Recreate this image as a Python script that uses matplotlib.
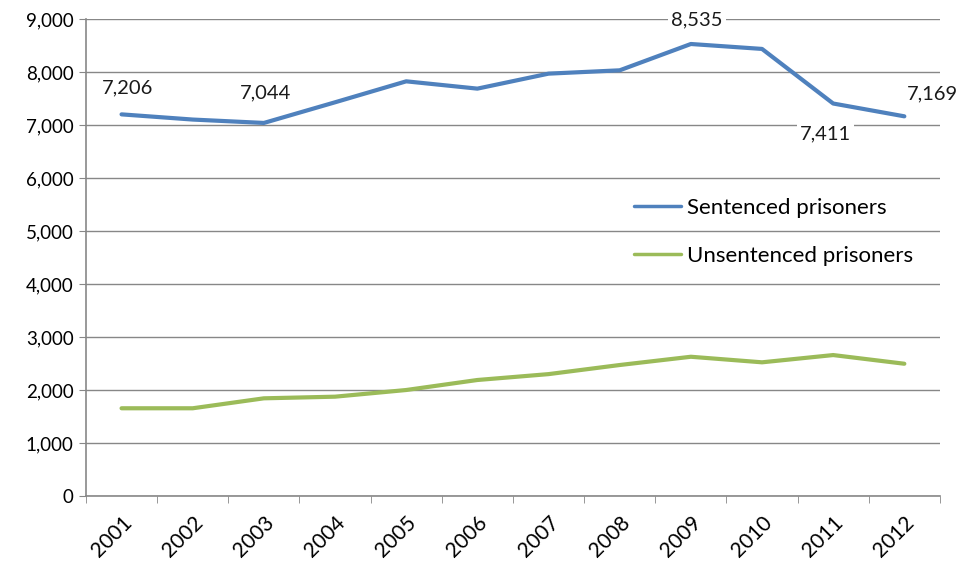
import matplotlib
matplotlib.use("Agg")
from matplotlib import pyplot as plt
import numpy as np

years = ["2001", "2002", "2003", "2004", "2005", "2006",
         "2007", "2008", "2009", "2010", "2011", "2012"]
sentenced = [7206, 7108, 7044, 7434, 7830, 7692, 7975, 8038, 8535, 8442, 7411, 7169]
unsentenced = [1655, 1655, 1843, 1874, 2000, 2189, 2300, 2472, 2628, 2523, 2660, 2496]

# which points get a value label, and where it sits (pixels from the point)
labelled = {0: (6, 26), 2: (2, 30), 8: (6, 24), 10: (-8, -30), 11: (28, 22)}

BLUE = "#4F81BD"
GREEN = "#9BBB59"
GRID = "#878787"

plt.rcParams["font.family"] = ["Lato", "DejaVu Sans"]

fig = plt.figure(figsize=(9.66, 5.70), dpi=100)
ax = fig.add_axes([0.089, 0.130, 0.884, 0.836])

x = np.arange(len(years))
ax.plot(x, sentenced, "-", color=BLUE, lw=3, solid_capstyle="round",
        label="Sentenced prisoners", zorder=3)
ax.plot(x, unsentenced, "-", color=GREEN, lw=3, solid_capstyle="round",
        label="Unsentenced prisoners", zorder=3)

for i, off in labelled.items():
    ax.annotate(f"{sentenced[i]:,}", (x[i], sentenced[i]), xytext=off,
                textcoords="offset pixels", ha="center", va="center",
                fontsize=14.5, color="#1a1a1a", zorder=4,
                bbox=dict(boxstyle="square,pad=0.15", fc="white", ec="none"))

ax.set_xlim(-0.5, len(years) - 0.5)
ax.set_ylim(0, 9000)
ax.set_yticks(range(0, 9001, 1000))
ax.set_yticklabels([f"{v:,}" for v in range(0, 9001, 1000)], fontsize=13.5)
ax.yaxis.grid(True, color=GRID, lw=1)
ax.set_axisbelow(True)

ax.set_xticks(x)
ax.set_xticklabels(years, rotation=45, ha="right", rotation_mode="anchor",
                   fontsize=15)
ax.set_xticks(np.arange(-0.5, len(years), 1), minor=True)
ax.tick_params(axis="x", which="major", length=0, pad=12)
ax.tick_params(axis="x", which="minor", length=5, color=GRID, direction="out")
ax.tick_params(axis="y", length=5, color=GRID, pad=4)

for side in ["top", "right"]:
    ax.spines[side].set_visible(False)
for side in ["left", "bottom"]:
    ax.spines[side].set_color(GRID)
    ax.spines[side].set_linewidth(1.2)

leg = ax.legend(loc="center left", bbox_to_anchor=(0.626, 0.554), frameon=True,
                fontsize=16, handlelength=2.1, handletextpad=0.27,
                labelspacing=1.25, borderpad=0.1)
leg.get_frame().set_facecolor("none")
leg.get_frame().set_edgecolor("none")
for line in leg.get_lines():
    line.set_linewidth(2.5)

fig.savefig("out.png", dpi=100)
